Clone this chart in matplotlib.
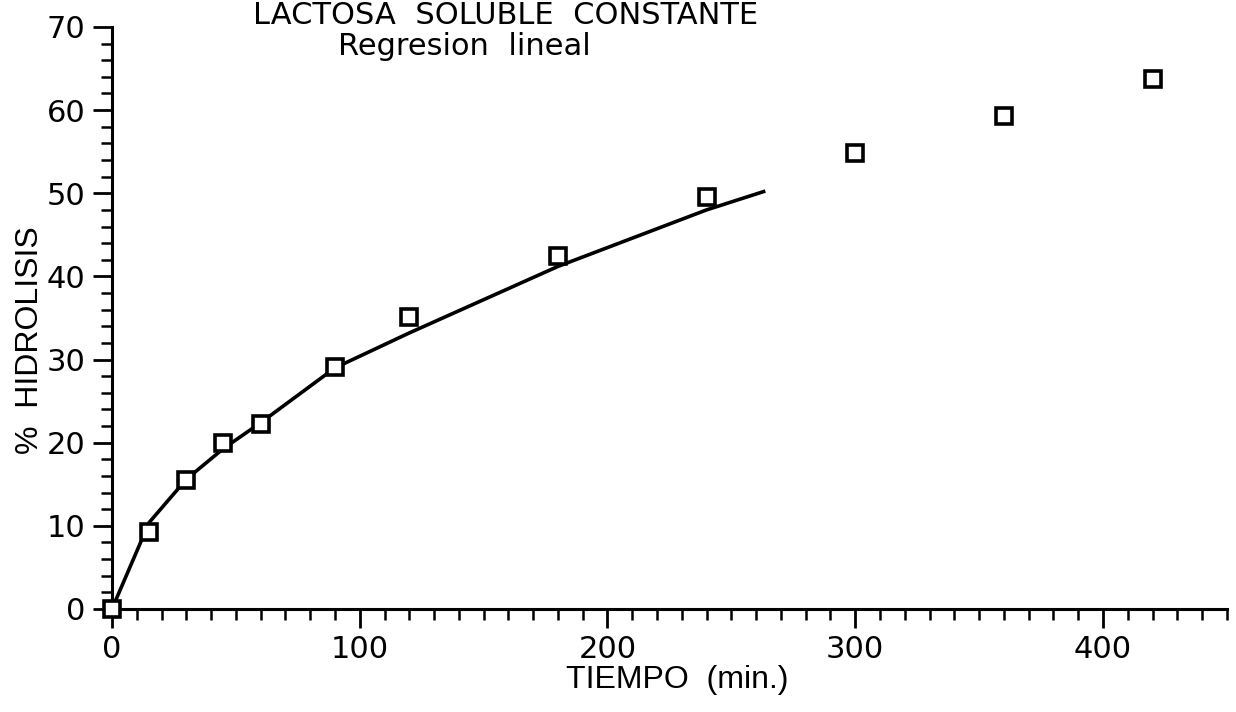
import matplotlib
matplotlib.use('Agg')
import matplotlib.pyplot as plt
from matplotlib.ticker import MultipleLocator

plt.rcParams['font.family'] = ['DejaVu Sans']

# Datos experimentales
tiempo = [0, 15, 30, 45, 60, 90, 120, 180, 240, 300, 360, 420]
hidrolisis = [0.0, 9.3, 15.5, 20.0, 22.3, 29.1, 35.1, 42.5, 49.5, 54.8, 59.3, 63.8]

# Curva de regresion
t_fit = [0, 15, 30, 45, 60, 90, 120, 180, 240, 263]
y_fit = [0.0, 10.4, 15.6, 19.3, 22.4, 29.0, 33.2, 41.2, 48.0, 50.2]

fig = plt.figure(figsize=(12.36, 7.12), dpi=100)
ax = fig.add_axes([0.0906, 0.1447, 0.902, 0.8174])

ax.plot(t_fit, y_fit, color='black', lw=2.6)
ax.plot(tiempo, hidrolisis, 's', ms=11, mfc='white', mec='black', mew=2.6,
        clip_on=False, zorder=3)

ax.set_xlim(0, 450)
ax.set_ylim(0, 70)
ax.xaxis.set_major_locator(MultipleLocator(100))
ax.xaxis.set_minor_locator(MultipleLocator(10))
ax.yaxis.set_major_locator(MultipleLocator(10))
ax.yaxis.set_minor_locator(MultipleLocator(2))

for s in ['top', 'right']:
    ax.spines[s].set_visible(False)
for s in ['left', 'bottom']:
    ax.spines[s].set_linewidth(2.2)

ax.tick_params(which='major', length=14, width=2.0, direction='out',
               labelsize=22, pad=5)
ax.tick_params(which='minor', length=8, width=1.8, direction='out')

lab = ['Liberation Sans', 'DejaVu Sans']
ax.set_xlabel('TIEMPO  (min.)', fontsize=23, family=lab)
ax.set_ylabel('%  HIDROLISIS', fontsize=23, family=lab)
ax.xaxis.set_label_coords(0.507, -0.096)
ax.yaxis.set_label_coords(-0.060, 0.462)

fig.text(0.409, 0.978, 'LACTOSA  SOLUBLE  CONSTANTE', fontsize=22,
         ha='center', va='center')
fig.text(0.376, 0.935, 'Regresion  lineal', fontsize=22, ha='center',
         va='center')

fig.savefig('out.png', dpi=100)
